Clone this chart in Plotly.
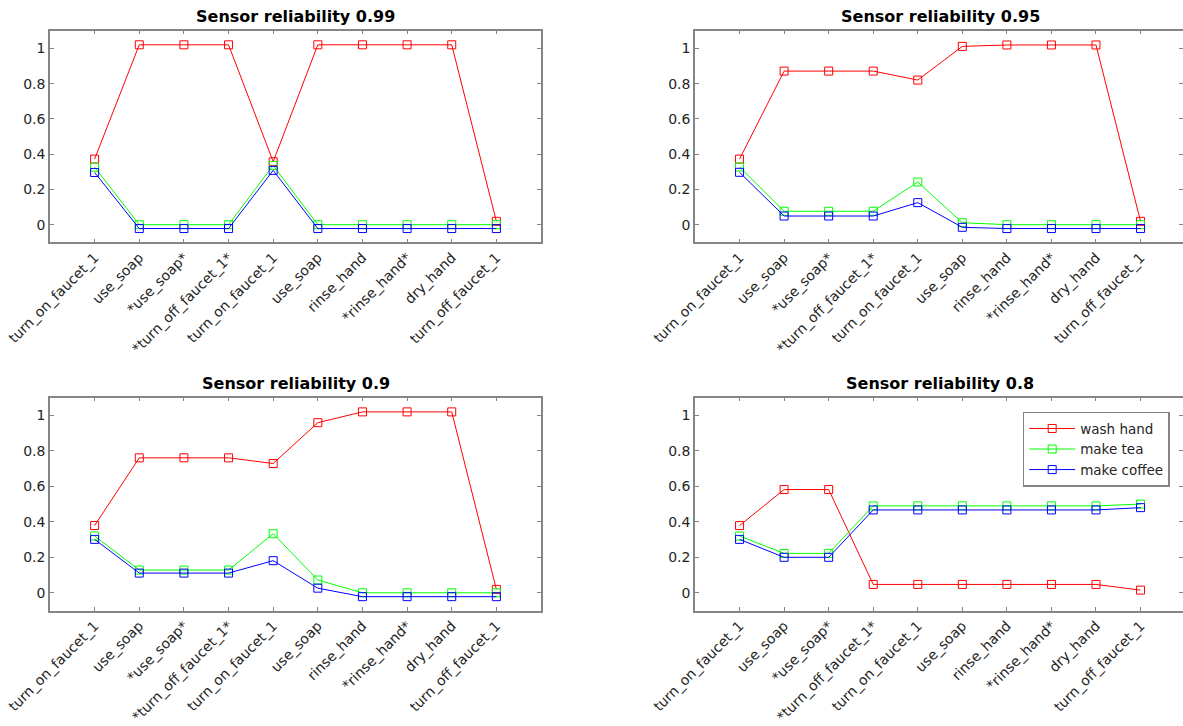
import plotly.graph_objects as go

# Action sequence shown on every x axis
steps = ["turn_on_faucet_1", "use_soap", "*use_soap*", "*turn_off_faucet_1*",
         "turn_on_faucet_1", "use_soap", "rinse_hand", "*rinse_hand*",
         "dry_hand", "turn_off_faucet_1"]
step_pos = list(range(1, len(steps) + 1))

activities = ["wash hand", "make tea", "make coffee"]
colors = ["#ff0000", "#00ff00", "#0000ff"]

reliability = ["0.99", "0.95", "0.9", "0.8"]

# Activity probabilities per step, one set per sensor reliability
wash_099 = [0.372, 1.02, 1.02, 1.02, 0.357, 1.02, 1.02, 1.02, 1.02, 0.019]
tea_099 = [0.326, 0.0, 0.0, 0.0, 0.336, 0.0, 0.0, 0.0, 0.0, 0.0]
coffee_099 = [0.296, -0.022, -0.022, -0.022, 0.308, -0.022, -0.022, -0.022, -0.022, -0.022]

wash_095 = [0.372, 0.871, 0.871, 0.871, 0.820, 1.011, 1.019, 1.019, 1.019, 0.019]
tea_095 = [0.327, 0.076, 0.076, 0.076, 0.242, 0.011, 0.0, 0.0, 0.0, 0.0]
coffee_095 = [0.297, 0.049, 0.049, 0.049, 0.125, -0.015, -0.022, -0.022, -0.022, -0.022]

wash_090 = [0.379, 0.761, 0.761, 0.761, 0.729, 0.959, 1.02, 1.02, 1.02, 0.019]
tea_090 = [0.320, 0.128, 0.128, 0.128, 0.333, 0.072, 0.0, 0.0, 0.0, 0.0]
coffee_090 = [0.301, 0.111, 0.111, 0.111, 0.181, 0.026, -0.022, -0.022, -0.022, -0.022]

wash_080 = [0.379, 0.582, 0.582, 0.047, 0.047, 0.047, 0.047, 0.047, 0.047, 0.015]
tea_080 = [0.320, 0.222, 0.222, 0.490, 0.490, 0.490, 0.490, 0.490, 0.490, 0.500]
coffee_080 = [0.301, 0.200, 0.200, 0.467, 0.467, 0.467, 0.467, 0.467, 0.467, 0.480]

panels = [
    (wash_099, tea_099, coffee_099),
    (wash_095, tea_095, coffee_095),
    (wash_090, tea_090, coffee_090),
    (wash_080, tea_080, coffee_080),
]

W, H = 1183, 726
FONT = "DejaVu Sans"
AX_LINE = "#858585"
TXT = "#262626"

# Axes boxes in pixels: (left, right, top, bottom, x upper limit)
boxes = [
    (50, 541, 30.7, 242.3, 11.0),
    (695, 1183, 30.7, 242.3, 10.953),
    (50, 541, 397.7, 610.5, 11.0),
    (695, 1183, 397.7, 610.5, 10.953),
]

fig = go.Figure()
layout = {}

for i, (series, box) in enumerate(zip(panels, boxes)):
    n = "" if i == 0 else str(i + 1)
    left, right, top, bottom, xmax = box
    for name, color, vals in zip(activities, colors, series):
        fig.add_trace(go.Scatter(
            x=step_pos, y=vals, name=name, mode="lines+markers",
            line=dict(color=color, width=1),
            marker=dict(symbol="square-open", size=8, color=color,
                        line=dict(width=1, color=color)),
            xaxis="x" + n, yaxis="y" + n,
            showlegend=(i == 3),
        ))
    layout["xaxis" + n] = dict(
        domain=[left / W, right / W], anchor="y" + n, automargin=False,
        range=[0, xmax], tickmode="array", tickvals=step_pos, ticktext=steps,
        tickangle=-45, ticks="inside", ticklen=4, tickcolor=AX_LINE,
        showline=True, linecolor=AX_LINE, linewidth=1.5, mirror="allticks",
        showgrid=False, zeroline=False,
        tickfont=dict(family=FONT, size=14, color=TXT),
    )
    layout["yaxis" + n] = dict(
        domain=[1 - bottom / H, 1 - top / H], anchor="x" + n, automargin=False,
        range=[-0.1, 1.1], tickmode="array",
        tickvals=[0, 0.2, 0.4, 0.6, 0.8, 1], ticktext=["0", "0.2", "0.4", "0.6", "0.8", "1"],
        ticks="inside", ticklen=4, tickcolor=AX_LINE,
        showline=True, linecolor=AX_LINE, linewidth=1.5, mirror="allticks",
        showgrid=False, zeroline=False,
        tickfont=dict(family=FONT, size=14, color=TXT),
    )

titles = []
for rel, box in zip(reliability, boxes):
    left, right, top, bottom, xmax = box
    cx = (left + left + (right - left) * 11.0 / xmax) / 2
    titles.append(dict(
        text="<b>Sensor reliability " + rel + "</b>",
        x=cx / W, y=1 - (top - 3) / H, xref="paper", yref="paper",
        xanchor="center", yanchor="bottom", showarrow=False,
        font=dict(family=FONT, size=16, color="#000000"),
    ))

fig.update_layout(
    width=W, height=H, autosize=False,
    margin=dict(l=0, r=0, t=0, b=0),
    paper_bgcolor="#ffffff", plot_bgcolor="#ffffff",
    font=dict(family=FONT, size=14, color=TXT),
    annotations=titles,
    legend=dict(
        x=1022.7 / W, y=1 - 411.7 / H, xanchor="left", yanchor="top",
        bgcolor="#ffffff", bordercolor=AX_LINE, borderwidth=1.5,
        font=dict(family=FONT, size=13.5, color=TXT),
        tracegroupgap=0, itemwidth=46,
    ),
    **layout,
)

fig.write_html("out.html")
